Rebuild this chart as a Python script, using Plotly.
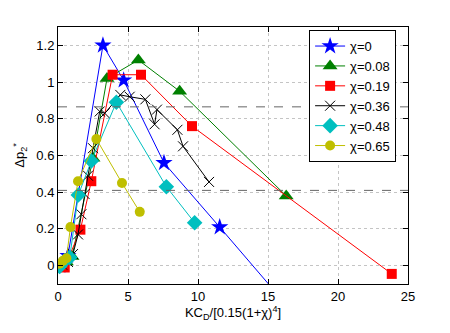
import plotly.graph_objects as go

# chi = 0
x_chi0 = [0.15, 0.4, 0.71, 3.21, 4.69, 7.57, 11.55, 16.5]
y_chi0 = [0.0, 0.02, 0.054, 1.2, 1.01, 0.56, 0.21, -0.23]
# chi = 0.08
x_chi008 = [0.2, 0.6, 1.0, 2.5, 3.5, 5.74, 8.69, 16.3]
y_chi008 = [0.0, 0.02, 0.05, 0.585, 1.02, 1.12, 0.95, 0.38]
# chi = 0.19
x_chi019 = [0.48, 1.6, 2.38, 3.9, 5.93, 9.57, 23.84]
y_chi019 = [-0.01, 0.196, 0.46, 1.04, 1.04, 0.76, -0.045]
# chi = 0.36
x_chi036 = [0.3, 0.71, 1.07, 1.43, 1.67, 1.9, 2.14, 2.5, 2.98, 3.34,
            4.45, 5.12, 6.24, 6.9, 7.07, 8.53, 8.93, 10.79]
y_chi036 = [0.005, 0.02, 0.063, 0.17, 0.28, 0.39, 0.49, 0.64, 0.84, 0.83,
            0.93, 0.92, 0.906, 0.77, 0.85, 0.74, 0.65, 0.456]
# chi = 0.48
x_chi048 = [0.12, 0.48, 0.84, 1.45, 2.38, 4.17, 7.74, 9.76]
y_chi048 = [-0.005, 0.027, 0.045, 0.385, 0.57, 0.89, 0.43, 0.234]
# chi = 0.65
x_chi065 = [0.12, 0.36, 0.6, 0.89, 1.43, 2.74, 4.57, 5.84]
y_chi065 = [0.01, 0.027, 0.04, 0.21, 0.46, 0.69, 0.45, 0.293]

ref_levels = [0.865, 0.41]

series = [
    ('χ=0', x_chi0, y_chi0, '#0000ff', 'star', 13),
    ('χ=0.08', x_chi008, y_chi008, '#008000', 'triangle-up', 13),
    ('χ=0.19', x_chi019, y_chi019, '#ff0000', 'square', 10),
    ('χ=0.36', x_chi036, y_chi036, '#000000', 'x-thin-open', 10),
    ('χ=0.48', x_chi048, y_chi048, '#00bfbf', 'diamond', 12),
    ('χ=0.65', x_chi065, y_chi065, '#bfbf00', 'circle', 10),
]

fig = go.Figure()

for name, xs, ys, color, symbol, size in series:
    fig.add_trace(go.Scatter(
        x=xs, y=ys, name=name, mode='lines+markers',
        line=dict(color=color, width=1),
        marker=dict(symbol=symbol, size=size, color=color,
                    line=dict(color=color, width=1 if symbol.startswith('x') else 0)),
    ))

for lev in ref_levels:
    fig.add_hline(y=lev, line=dict(color='#666666', width=1, dash='dash'))

axis_common = dict(
    showline=True, linecolor='black', linewidth=1, mirror='ticks',
    ticks='inside', ticklen=5, tickcolor='black',
    showgrid=True, gridcolor='#c4c4c4', griddash='dot', gridwidth=1,
    zeroline=False, automargin=False,
    tickfont=dict(size=13, color='black'),
)

# page body adds an 8px offset, so margins are trimmed on the left/top
fig.update_layout(
    width=450, height=333,
    margin=dict(l=50, r=50, t=19, b=57),
    paper_bgcolor='white', plot_bgcolor='white',
    font=dict(family='Liberation Sans, Arial, sans-serif', size=13, color='black'),
    xaxis=dict(range=[0, 25], dtick=5,
               title=dict(text='KC<sub>D</sub>/[0.15(1+χ)<sup>4</sup>]', standoff=2,
                          font=dict(size=13)),
               **axis_common),
    yaxis=dict(range=[-0.1, 1.3], dtick=0.2,
               title=dict(text='Δp<sub>2</sub><sup>*</sup>', standoff=8,
                          font=dict(size=13)),
               **axis_common),
    showlegend=True,
    legend=dict(
        x=0.966, y=0.988, xanchor='right', yanchor='top',
        bgcolor='white', bordercolor='black', borderwidth=1,
        font=dict(size=13), itemwidth=30,
        tracegroupgap=0,
    ),
)

fig.write_html("out.html")
